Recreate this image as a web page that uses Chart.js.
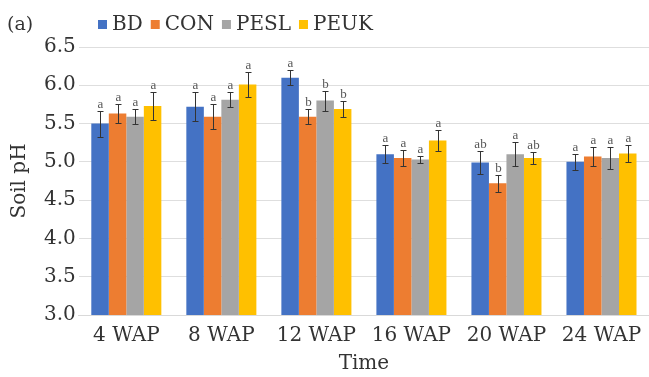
<!DOCTYPE html>
<html><head><meta charset="utf-8">
<script src="https://cdn.jsdelivr.net/npm/chart.js@4"></script>
<style>html,body{margin:0;padding:0;background:#fff}#wrap{width:649px;height:377px;position:relative}</style>
</head><body><div id="wrap"><canvas id="c"></canvas></div>
<script>
const categories = ["4 WAP","8 WAP","12 WAP","16 WAP","20 WAP","24 WAP"];
const seriesNames = ["BD","CON","PESL","PEUK"];
const BD   = [5.50, 5.72, 6.10, 5.10, 4.99, 5.00];
const CON  = [5.63, 5.59, 5.59, 5.05, 4.72, 5.07];
const PESL = [5.59, 5.81, 5.80, 5.03, 5.10, 5.05];
const PEUK = [5.73, 6.01, 5.69, 5.28, 5.05, 5.11];
const errBD   = [0.17, 0.19, 0.10, 0.12, 0.15, 0.10];
const errCON  = [0.12, 0.16, 0.10, 0.11, 0.11, 0.12];
const errPESL = [0.10, 0.10, 0.13, 0.05, 0.16, 0.14];
const errPEUK = [0.18, 0.16, 0.10, 0.14, 0.08, 0.11];
const lblBD   = ["a","a","a","a","ab","a"];
const lblCON  = ["a","a","b","a","b","a"];
const lblPESL = ["a","a","b","a","a","a"];
const lblPEUK = ["a","a","b","a","ab","a"];
const yTicks = [3.0,3.5,4.0,4.5,5.0,5.5,6.0,6.5];

const colors = ["#4472C4","#ED7D31","#A5A5A5","#FFC000"];
const values = [BD,CON,PESL,PEUK];
const errs = [errBD,errCON,errPESL,errPEUK];
const lbls = [lblBD,lblCON,lblPESL,lblPEUK];
const FONT = "'DejaVu Serif',serif";
const TXT = "#333333";

const extras = {
  id:'extras',
  afterDatasetsDraw(chart){
    const ctx = chart.ctx, y = chart.scales.y;
    chart.data.datasets.forEach((ds,di)=>{
      const meta = chart.getDatasetMeta(di);
      meta.data.forEach((bar,i)=>{
        const v = ds.data[i], e = errs[di][i];
        const yt = Math.round(y.getPixelForValue(v+e)), yb = Math.round(y.getPixelForValue(v-e));
        const x = Math.round(bar.x);
        ctx.save();
        ctx.strokeStyle = "#333"; ctx.lineWidth = 1;
        ctx.beginPath();
        ctx.moveTo(x+0.5,yt); ctx.lineTo(x+0.5,yb);
        ctx.moveTo(x-2.5,yt+0.5); ctx.lineTo(x+3.5,yt+0.5);
        ctx.moveTo(x-2.5,yb+0.5); ctx.lineTo(x+3.5,yb+0.5);
        ctx.stroke();
        ctx.fillStyle = "#555"; ctx.font = "13px 'Liberation Serif',serif";
        ctx.textAlign = "center"; ctx.textBaseline = "alphabetic";
        ctx.fillText(lbls[di][i], x+0.5, yt-3);
        ctx.restore();
      });
    });
  },
  afterDraw(chart){
    const ctx = chart.ctx;
    ctx.save();
    ctx.fillStyle = TXT; ctx.font = "19px "+FONT; ctx.textBaseline="middle"; ctx.textAlign="left";
    ctx.fillText("(a)", 7, 25);
    let x = 98;
    ctx.font = "20px "+FONT;
    seriesNames.forEach((n,i)=>{
      ctx.fillStyle = colors[i];
      ctx.fillRect(x, 20, 9, 9);
      ctx.fillStyle = TXT;
      ctx.fillText(n, x+14, 25);
      x += 14 + ctx.measureText(n).width + 8;
    });
    ctx.restore();
  }
};

new Chart(document.getElementById('c'), {
  type:'bar',
  data:{
    labels: categories,
    datasets: seriesNames.map((n,i)=>({label:n, data:values[i], backgroundColor:colors[i], borderWidth:0, barPercentage:1.0, categoryPercentage:0.737}))
  },
  options:{
    responsive:true, maintainAspectRatio:false, animation:false,
    devicePixelRatio:1,
    layout:{padding:{top:47,right:0,left:8,bottom:1}},
    plugins:{legend:{display:false}, tooltip:{enabled:false}},
    scales:{
      x:{grid:{display:false}, border:{color:"#D9D9D9"},
         ticks:{color:TXT, font:{family:FONT,size:20}, padding:1, maxRotation:0},
         title:{display:true, text:"Time", color:TXT, font:{family:FONT,size:20}, padding:{top:3,bottom:0}}},
      y:{min:3.0, max:6.5,
         afterBuildTicks(s){ s.ticks = yTicks.map(v=>({value:v})); },
         grid:{color:"#DEDEDE", drawTicks:false}, border:{display:false},
         ticks:{color:TXT, font:{family:FONT,size:20}, padding:3, callback:v=>Number(v).toFixed(1)},
         title:{display:true, text:"Soil pH", color:TXT, font:{family:FONT,size:20}, padding:{top:0,bottom:9}}}
    }
  },
  plugins:[extras]
});
</script></body></html>
